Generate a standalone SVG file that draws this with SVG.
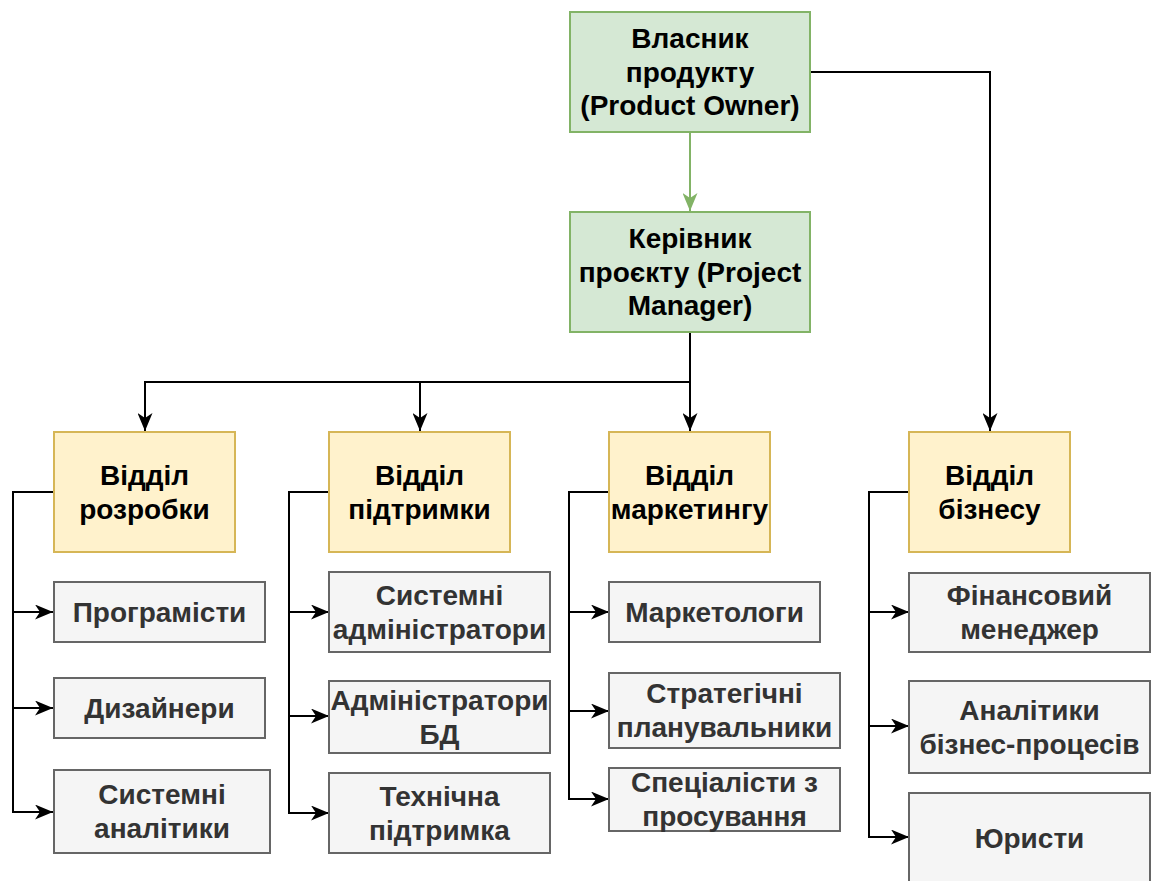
<svg xmlns="http://www.w3.org/2000/svg" width="1154" height="881" viewBox="0 0 1154 881">
<style>
  text { font-family: "Liberation Sans", Arial, sans-serif; font-weight: bold; font-size: 28px; text-anchor: middle; }
  .green rect { fill: #d5e8d4; stroke: #82b366; stroke-width: 2; }
  .yellow rect { fill: #fff2cc; stroke: #d6b656; stroke-width: 2; }
  .grey rect { fill: #f5f5f5; stroke: #666666; stroke-width: 2; }
  .green text, .yellow text { fill: #000000; }
  .grey text { fill: #333333; }
  .edge { fill: none; stroke: #000000; stroke-width: 2; }
  .edge-green { fill: none; stroke: #82b366; stroke-width: 2; }
</style>
<defs>
  <marker id="arrow" markerUnits="userSpaceOnUse" markerWidth="18" markerHeight="15" refX="18" refY="7.5" orient="auto" viewBox="0 0 18 15">
    <path d="M0,0 L18,7.5 L0,15 L5,7.5 Z" fill="#000000"/>
  </marker>
  <marker id="arrow-green" markerUnits="userSpaceOnUse" markerWidth="18" markerHeight="15" refX="18" refY="7.5" orient="auto" viewBox="0 0 18 15">
    <path d="M0,0 L18,7.5 L0,15 L5,7.5 Z" fill="#82b366"/>
  </marker>
</defs>
<rect width="1154" height="881" fill="#ffffff"/>

<g id="connectors">
  <path class="edge-green" d="M690,132 V211" marker-end="url(#arrow-green)"/>
  <path class="edge" d="M810,72 H990 V431" marker-end="url(#arrow)"/>
  <path class="edge" d="M690,332 V382 H145 V431" marker-end="url(#arrow)"/>
  <path class="edge" d="M690,382 H420 V431" marker-end="url(#arrow)"/>
  <path class="edge" d="M690,332 V431" marker-end="url(#arrow)"/>

  <path class="edge" d="M54,492 H13 V612 H53" marker-end="url(#arrow)"/>
  <path class="edge" d="M13,612 V708 H53" marker-end="url(#arrow)"/>
  <path class="edge" d="M13,708 V812 H53" marker-end="url(#arrow)"/>

  <path class="edge" d="M329,492 H289 V612 H329" marker-end="url(#arrow)"/>
  <path class="edge" d="M289,612 V716 H329" marker-end="url(#arrow)"/>
  <path class="edge" d="M289,716 V813 H329" marker-end="url(#arrow)"/>

  <path class="edge" d="M609,492 H569 V612 H609" marker-end="url(#arrow)"/>
  <path class="edge" d="M569,612 V711 H609" marker-end="url(#arrow)"/>
  <path class="edge" d="M569,711 V799 H609" marker-end="url(#arrow)"/>

  <path class="edge" d="M909,492 H869 V612 H909" marker-end="url(#arrow)"/>
  <path class="edge" d="M869,612 V726 H909" marker-end="url(#arrow)"/>
  <path class="edge" d="M869,726 V837 H909" marker-end="url(#arrow)"/>
</g>

<g id="owner" class="green">
  <rect x="570" y="12" width="240" height="120"/>
  <text x="690" y="48">Власник</text>
  <text x="690" y="82">продукту</text>
  <text x="690" y="115">(Product Owner)</text>
</g>
<g id="pm" class="green">
  <rect x="570" y="212" width="240" height="120"/>
  <text x="690" y="248">Керівник</text>
  <text x="690" y="282">проєкту (Project</text>
  <text x="690" y="315">Manager)</text>
</g>

<g id="dev" class="yellow">
  <rect x="54" y="432" width="181" height="120"/>
  <text x="144.5" y="485">Відділ</text>
  <text x="144.5" y="519">розробки</text>
</g>
<g id="support" class="yellow">
  <rect x="329" y="432" width="181" height="120"/>
  <text x="419.5" y="485">Відділ</text>
  <text x="419.5" y="519">підтримки</text>
</g>
<g id="marketing" class="yellow">
  <rect x="609" y="432" width="161" height="120"/>
  <text x="689.5" y="485">Відділ</text>
  <text x="689.5" y="519">маркетингу</text>
</g>
<g id="business" class="yellow">
  <rect x="909" y="432" width="161" height="120"/>
  <text x="989.5" y="485">Відділ</text>
  <text x="989.5" y="519">бізнесу</text>
</g>

<g id="programmers" class="grey">
  <rect x="54" y="582" width="211" height="60"/>
  <text x="159.5" y="622">Програмісти</text>
</g>
<g id="designers" class="grey">
  <rect x="54" y="678" width="211" height="60"/>
  <text x="159.5" y="718">Дизайнери</text>
</g>
<g id="sys-analysts" class="grey">
  <rect x="54" y="770" width="216" height="83"/>
  <text x="162" y="804">Системні</text>
  <text x="162" y="838">аналітики</text>
</g>

<g id="sysadmins" class="grey">
  <rect x="329" y="572" width="221" height="80"/>
  <text x="439.5" y="605">Системні</text>
  <text x="439.5" y="639">адміністратори</text>
</g>
<g id="dba" class="grey">
  <rect x="329" y="681" width="221" height="72"/>
  <text x="439.5" y="710">Адміністратори</text>
  <text x="439.5" y="744">БД</text>
</g>
<g id="tech-support" class="grey">
  <rect x="329" y="773" width="221" height="80"/>
  <text x="439.5" y="806">Технічна</text>
  <text x="439.5" y="840">підтримка</text>
</g>

<g id="marketers" class="grey">
  <rect x="609" y="582" width="211" height="60"/>
  <text x="714.5" y="622">Маркетологи</text>
</g>
<g id="planners" class="grey">
  <rect x="609" y="673" width="231" height="75"/>
  <text x="724.5" y="703">Стратегічні</text>
  <text x="724.5" y="737">планувальники</text>
</g>
<g id="promotion" class="grey">
  <rect x="609" y="768" width="231" height="63"/>
  <text x="724.5" y="792">Спеціалісти з</text>
  <text x="724.5" y="826">просування</text>
</g>

<g id="finance" class="grey">
  <rect x="909" y="573" width="241" height="79"/>
  <text x="1029.5" y="605">Фінансовий</text>
  <text x="1029.5" y="639">менеджер</text>
</g>
<g id="bp-analysts" class="grey">
  <rect x="909" y="681" width="241" height="92"/>
  <text x="1029.5" y="720">Аналітики</text>
  <text x="1029.5" y="754">бізнес-процесів</text>
</g>
<g id="lawyers" class="grey">
  <rect x="909" y="793" width="241" height="92"/>
  <text x="1029.5" y="848">Юристи</text>
</g>
</svg>
